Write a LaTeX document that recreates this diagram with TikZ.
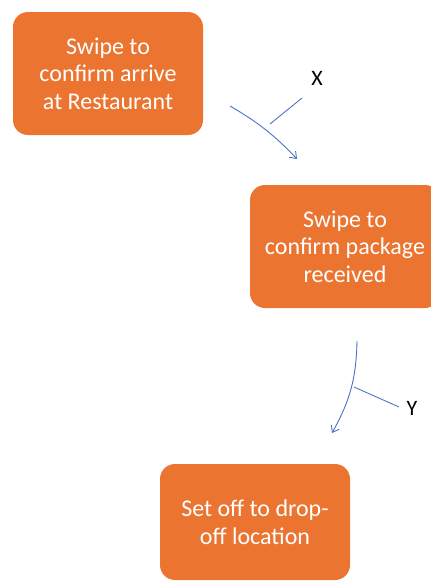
\documentclass[tikz,border=0pt]{standalone}
\usepackage{fontspec}
\setmainfont{Carlito}
\usetikzlibrary{arrows.meta,positioning}
\definecolor{boxorange}{HTML}{EB7530}
\definecolor{flowblue}{HTML}{4A72C8}

\begin{document}
\begin{tikzpicture}[x=1pt, y=-1pt,
    stepbox/.style={fill=boxorange, rounded corners=15pt, minimum width=190pt, minimum height=123pt,
        text=white, align=center, font=\fontsize{24}{27.5}\selectfont, inner sep=0pt},
    flow/.style={-{Straight Barb[length=6pt, width=9pt]}, flowblue, line width=0.9pt},
    tag/.style={flowblue, line width=0.9pt},
    lbl/.style={font=\fontsize{22}{24}\selectfont, inner sep=0pt},
]
\clip (0,0) rectangle (431,581);
% --- steps ---
\node[stepbox] (arrive) at (108,73.5) {Swipe to\\confirm arrive\\at Restaurant};
\node[stepbox] (package) at (345,246.5) {Swipe to\\confirm package\\received};
\node[stepbox, minimum height=116pt] (dropoff) at (255,522) {Set off to drop-\\off location};

% --- transitions ---
\coordinate (a1) at (230,106);
\coordinate (a2) at (297,159);
\draw[flow] (a1) to[bend left=8] (a2);
\coordinate (b1) at (357,341);
\coordinate (b2) at (332,433);
\draw[flow] (b1) to[bend left=14] (b2);

% --- labels ---
\node[lbl] (x) at (317,78) {X};
\node[lbl] (y) at (412,408) {Y};
\coordinate (xa) at (270,124);
\coordinate (xb) at (302,98);
\draw[tag] (xa) -- (xb);
\coordinate (ya) at (354,387);
\coordinate (yb) at (399,407);
\draw[tag] (ya) -- (yb);
\end{tikzpicture}
\end{document}
